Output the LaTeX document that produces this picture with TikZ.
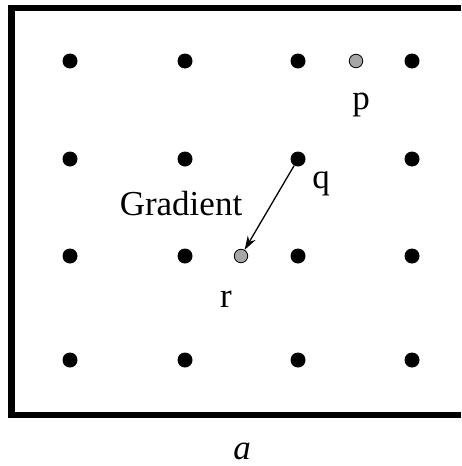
\documentclass[tikz,border=0pt]{standalone}
\usepackage{fontspec}
\setmainfont{Liberation Serif}
\usetikzlibrary{arrows.meta,positioning}
\tikzset{
  dot/.style={circle, fill=black, inner sep=0pt, minimum size=15pt},
  graydot/.style={circle, fill=gray!70, draw=black, line width=0.8pt, inner sep=0pt, minimum size=13.5pt},
  lbl/.style={font=\fontsize{35}{40}\selectfont, inner sep=0pt, anchor=base},
}

\begin{document}
\begin{tikzpicture}[x=1pt, y=-1pt]
  \useasboundingbox (0,0) rectangle (461,466);

  % Frame (open on the right side)
  \draw[line width=6.5pt] (461,8) -- (11.5,8) -- (11.5,415) -- (461,415);

  % Grid points
  \foreach \i/\x in {1/70,2/185,3/298,4/412}
    \foreach \j/\y in {1/61,2/159,3/256,4/360}
      \node[dot] (g\i\j) at (\x,\y) {};

  % Off-grid points
  \node[graydot] (p) at (356,61) {};
  \node[graydot] (r) at (241,256) {};

  % Labels
  \node[lbl] (plbl) at (361,109) {p};
  \node[lbl] (qlbl) at (321,188) {q};
  \node[lbl] (rlbl) at (226,307) {r};
  \node[lbl] (grad) at (181,215) {Gradient};
  \node[lbl] (alpha) at (242,459) {\textit{a}};

  % Gradient arrow q -> r
  \draw[-{Stealth[length=14pt,width=9pt]}, line width=1.3pt] (g32) -- (r);

\end{tikzpicture}
\end{document}
